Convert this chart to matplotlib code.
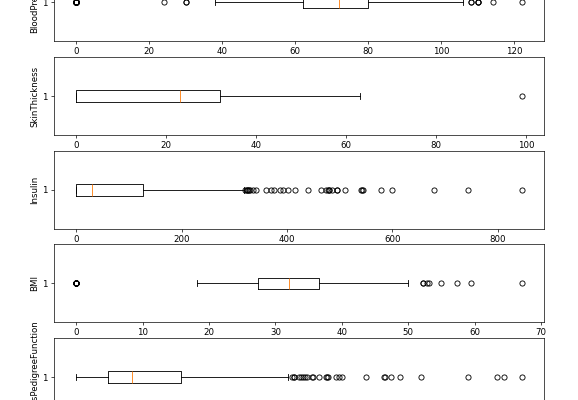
#!/usr/bin/env python3
"""Horizontal box plots per column (Pima diabetes features), cropped view."""

import matplotlib
matplotlib.use("Agg")
import matplotlib.pyplot as plt

# ── Data ────────────────────────────────────────────────────
columns = ["BloodPressure", "SkinThickness", "Insulin", "BMI",
           "DiabetesPedigreeFunction"]

q1s      = [62, 0, 0, 27.3, 0.24375]
medians  = [72, 23, 30.5, 32.0, 0.3725]
q3s      = [80, 32, 127.25, 36.6, 0.62625]
whislos  = [38, 0, 0, 18.2, 0.078]
whishis  = [106, 63, 318, 50.0, 1.191]

bp_fliers = [0] * 35 + [24, 30, 30, 108, 108, 110, 110, 110, 114, 122]
skin_fliers = [99]
insulin_fliers = [321, 325, 325, 326, 328, 330, 335, 342, 360, 370, 375,
                  387, 392, 402, 415, 440, 465, 474, 478, 480, 480, 485,
                  495, 495, 510, 540, 543, 545, 579, 600, 680, 744, 846]
bmi_fliers = [0] * 11 + [52.3, 52.3, 52.9, 53.2, 55.0, 57.3, 59.4, 67.1]
dpf_fliers = [1.213, 1.222, 1.224, 1.251, 1.258, 1.268, 1.282, 1.292,
              1.318, 1.321, 1.353, 1.39, 1.394, 1.4, 1.441, 1.461, 1.476,
              1.6, 1.698, 1.699, 1.731, 1.781, 1.893, 2.137, 2.288, 2.329,
              2.42]
fliers = [bp_fliers, skin_fliers, insulin_fliers, bmi_fliers, dpf_fliers]


def main():
    W, H = 578, 400
    DPI = 62  # reference looks like a downscaled render
    fig = plt.figure(figsize=(W / DPI, H / DPI), dpi=DPI)

    # layout in pixels (the figure is a crop of a taller stack)
    left, width = 54, 490
    ax_h, period = 78, 93.7
    first_top = 57 - period

    for i, name in enumerate(columns):
        top = first_top + i * period
        ax = fig.add_axes([left / W, 1 - (top + ax_h) / H, width / W, ax_h / H])
        stats = [{
            "med": medians[i], "q1": q1s[i], "q3": q3s[i],
            "whislo": whislos[i], "whishi": whishis[i],
            "fliers": fliers[i], "label": "1",
        }]
        ax.bxp(stats, positions=[1], orientation="horizontal")
        ax.set_ylabel(name)

    fig.savefig("out.png", dpi=DPI)
    plt.close(fig)


if __name__ == "__main__":
    main()
